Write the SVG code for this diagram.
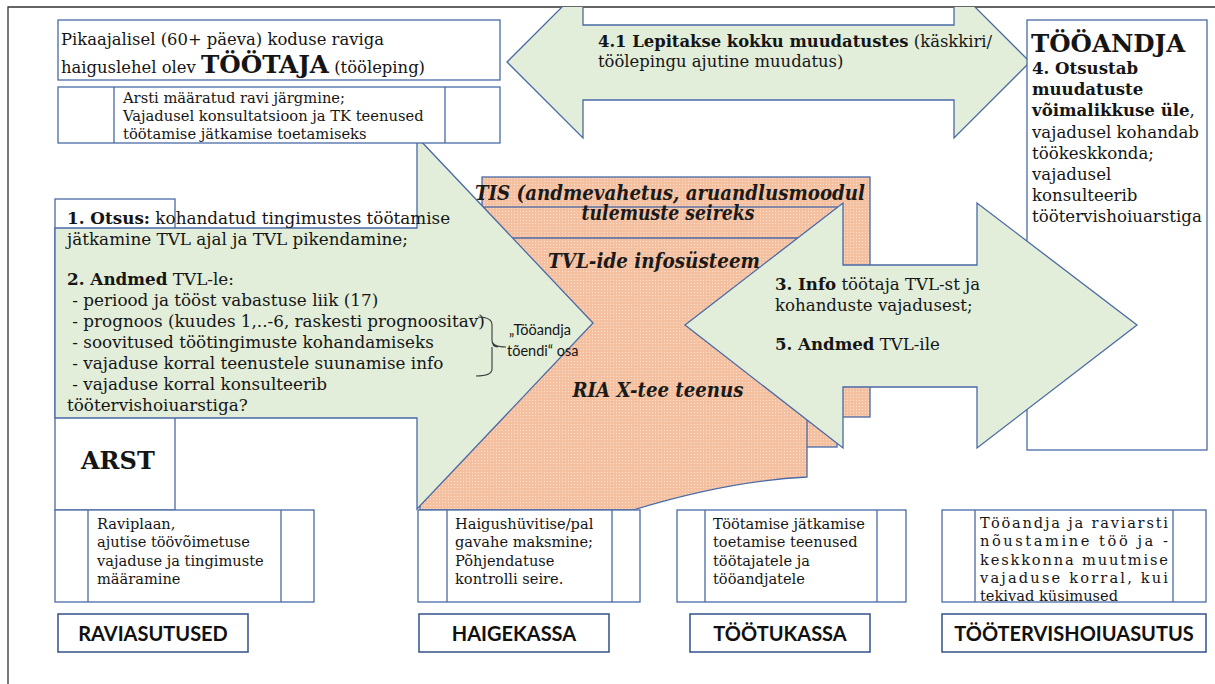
<svg xmlns="http://www.w3.org/2000/svg" width="1215" height="684" viewBox="0 0 1215 684">
<style>
.ol{stroke:#4a6aa6;stroke-width:1.3;stroke-linejoin:miter}
.wb{fill:#ffffff}
.gr{fill:#e2eeda}
.or{fill:url(#dots)}
.lb{fill:#ffffff;stroke:#3e5c92;stroke-width:1.6}
.sf{font-family:"DejaVu Serif","Liberation Serif",serif;fill:#151515}
.it{font-family:"DejaVu Serif","Liberation Serif",serif;font-style:italic;font-weight:bold;font-size:20px;fill:#1a1a1a;text-anchor:middle}
.ss{font-family:Lato,"Liberation Sans",sans-serif;fill:#151515}
.lt{font-family:Lato,"Liberation Sans",sans-serif;font-weight:bold;font-size:20px;fill:#111;text-anchor:middle}
.b{font-weight:bold}
</style>
<defs>
<pattern id="dots" width="3" height="3" patternUnits="userSpaceOnUse">
<rect width="3" height="3" fill="#f4c0a0"/>
<rect x="1" y="1" width="1" height="1" fill="#fbe2d3"/>
</pattern>
<clipPath id="slide"><rect x="8" y="7" width="1207" height="677"/></clipPath>
</defs>
<rect width="1215" height="684" fill="#ffffff"/>
<g id="frame"><path d="M8,684 V7 H1215" fill="none" stroke="#333" stroke-width="1.3"/></g>
<g clip-path="url(#slide)">
<g id="connectors">
<polygon id="arrow-4-1" class="gr ol" points="507,62 583,-14 583,25 954,25 954,-14 1030,62 954,138 954,100 583,100 583,138"/>
</g>
<g id="tooandja">
<rect class="wb ol" x="1027" y="20" width="180" height="430"/>
<text class="sf b" x="1031" y="52" font-size="24.5">TÖÖANDJA</text>
<text class="sf" font-size="16.6"><tspan class="b" x="1032" y="74">4. Otsustab</tspan><tspan class="b" x="1032" y="95">muudatuste</tspan><tspan x="1032" y="116"><tspan class="b">võimalikkuse üle</tspan>,</tspan><tspan x="1032" y="138">vajadusel kohandab</tspan><tspan x="1032" y="159">töökeskkonda;</tspan><tspan x="1032" y="180">vajadusel</tspan><tspan x="1032" y="201">konsulteerib</tspan><tspan x="1032" y="222">töötervishoiuarstiga</tspan></text>
</g>
<g id="arst">
<rect class="wb ol" x="55" y="199" width="120" height="311"/>
<text class="sf b" x="81" y="469" font-size="24">ARST</text>
</g>
<g id="infosysteem">
<rect class="or ol" x="482" y="177" width="388" height="240"/>
<rect class="or ol" x="451" y="207" width="386" height="240"/>
<path class="or ol" d="M420,238 H807 V477 C745,480 685,494 633,510 H420 Z"/>
</g>
<g id="arst-arrow">
<polygon class="gr ol" points="55,228 417,228 417,137 593,323 417,509 417,418 55,418"/>
</g>
<g id="info-arrow">
<polygon class="gr ol" points="685,325 843,203 843,265 977,265 977,203 1137,325 977,448 977,387 843,387 843,448"/>
</g>
<g id="tootaja">
<rect class="wb ol" x="58" y="20" width="442" height="60"/>
<text class="sf" font-size="16.4"><tspan x="61" y="45">Pikaajalisel (60+ päeva) koduse raviga</tspan><tspan x="61" y="73">haiguslehel olev <tspan class="b" font-size="25" textLength="128" lengthAdjust="spacingAndGlyphs">TÖÖTAJA</tspan> (tööleping)</tspan></text>
</g>
<g id="tootaja-roll">
<rect class="wb ol" x="58" y="87" width="442" height="56"/>
<path class="ol" d="M114,87 V143 M445,87 V143" fill="none"/>
<text class="sf" font-size="14.7"><tspan x="123" y="103">Arsti määratud ravi järgmine;</tspan><tspan x="123" y="121">Vajadusel konsultatsioon ja TK teenused</tspan><tspan x="123" y="139">töötamise jätkamise toetamiseks</tspan></text>
</g>
<g id="texts-center">
<text class="it" x="670" y="200" textLength="390" lengthAdjust="spacingAndGlyphs">TIS (andmevahetus, aruandlusmoodul</text>
<text class="it" x="668" y="220" textLength="173" lengthAdjust="spacingAndGlyphs">tulemuste seireks</text>
<text class="it" x="654" y="268" textLength="212" lengthAdjust="spacingAndGlyphs">TVL-ide infosüsteem</text>
<text class="it" x="658" y="397" textLength="171" lengthAdjust="spacingAndGlyphs">RIA X-tee teenus</text>
</g>
<g id="arst-text">
<text class="sf" font-size="16.8"><tspan x="67" y="224"><tspan class="b">1. Otsus:</tspan> kohandatud tingimustes töötamise</tspan><tspan x="67" y="245">jätkamine TVL ajal ja TVL pikendamine;</tspan><tspan x="67" y="285"><tspan class="b">2. Andmed</tspan> TVL-le:</tspan><tspan x="67" y="306"> - periood ja tööst vabastuse liik (17)</tspan><tspan x="67" y="327"> - prognoos (kuudes 1,..-6, raskesti prognoositav)</tspan><tspan x="67" y="348"> - soovitused töötingimuste kohandamiseks</tspan><tspan x="67" y="369"> - vajaduse korral teenustele suunamise info</tspan><tspan x="67" y="390"> - vajaduse korral konsulteerib</tspan><tspan x="67" y="411">töötervishoiuarstiga?</tspan></text>
<path d="M478,317 Q492,317 492,325 V340 Q492,347 506,347 M492,347 Q492,354 492,354 V369 Q492,376 476,376 M492,340 Q492,347 498,347" fill="none" stroke="#3a3a3a" stroke-width="1.1"/>
<text class="ss" font-size="14.5"><tspan x="509" y="335">„Tööandja</tspan><tspan x="507" y="356">tõendi“ osa</tspan></text>
</g>
<g id="info-text">
<text class="sf" font-size="16.6"><tspan x="775" y="290"><tspan class="b">3. Info</tspan> töötaja TVL-st ja</tspan><tspan x="775" y="311">kohanduste vajadusest;</tspan><tspan x="775" y="350"><tspan class="b">5. Andmed</tspan> TVL-ile</tspan></text>
<text class="sf" x="598" y="47" font-size="16.4"><tspan class="b">4.1 Lepitakse kokku muudatustes</tspan> (käskkiri/</text>
<text class="sf" x="598" y="67" font-size="16.4">töölepingu ajutine muudatus)</text>
</g>
<g id="raviasutused">
<rect class="wb ol" x="55" y="510" width="259" height="92"/>
<path class="ol" d="M88,510 V602 M281,510 V602" fill="none"/>
<text class="sf" font-size="14.6"><tspan x="97" y="529">Raviplaan,</tspan><tspan x="97" y="547">ajutise töövõimetuse</tspan><tspan x="97" y="566">vajaduse ja tingimuste</tspan><tspan x="97" y="584">määramine</tspan></text>
<rect class="lb" x="58" y="614" width="190" height="38"/>
<text class="lt" x="153" y="641">RAVIASUTUSED</text>
</g>
<g id="haigekassa">
<rect class="wb ol" x="418" y="510" width="222" height="92"/>
<path class="ol" d="M447,510 V602 M612,510 V602" fill="none"/>
<text class="sf" font-size="14.6"><tspan x="455" y="529">Haigushüvitise/pal</tspan><tspan x="455" y="547">gavahe maksmine;</tspan><tspan x="455" y="566">Põhjendatuse</tspan><tspan x="455" y="584">kontrolli seire.</tspan></text>
<rect class="lb" x="419" y="614" width="190" height="38"/>
<text class="lt" x="514" y="641">HAIGEKASSA</text>
</g>
<g id="tootukassa">
<rect class="wb ol" x="677" y="510" width="229" height="92"/>
<path class="ol" d="M705,510 V602 M877,510 V602" fill="none"/>
<text class="sf" font-size="14.6"><tspan x="713" y="529">Töötamise jätkamise</tspan><tspan x="713" y="547">toetamise teenused</tspan><tspan x="713" y="566">töötajatele ja</tspan><tspan x="713" y="584">tööandjatele</tspan></text>
<rect class="lb" x="690" y="614" width="180" height="38"/>
<text class="lt" x="780" y="641">TÖÖTUKASSA</text>
</g>
<g id="tootervishoid">
<rect class="wb ol" x="942" y="510" width="264" height="92"/>
<path class="ol" d="M975,510 V602 M1173,510 V602" fill="none"/>
<text class="sf" font-size="14.6"><tspan x="980" y="528" textLength="188" lengthAdjust="spacing">Tööandja ja raviarsti</tspan><tspan x="980" y="546" textLength="188" lengthAdjust="spacing">nõustamine töö ja -</tspan><tspan x="980" y="565" textLength="188" lengthAdjust="spacing">keskkonna muutmise</tspan><tspan x="980" y="583" textLength="188" lengthAdjust="spacing">vajaduse korral, kui</tspan><tspan x="980" y="601">tekivad küsimused</tspan></text>
<rect class="lb" x="942" y="614" width="264" height="38"/>
<text class="lt" x="1074" y="641">TÖÖTERVISHOIUASUTUS</text>
</g>
</g>
</svg>
